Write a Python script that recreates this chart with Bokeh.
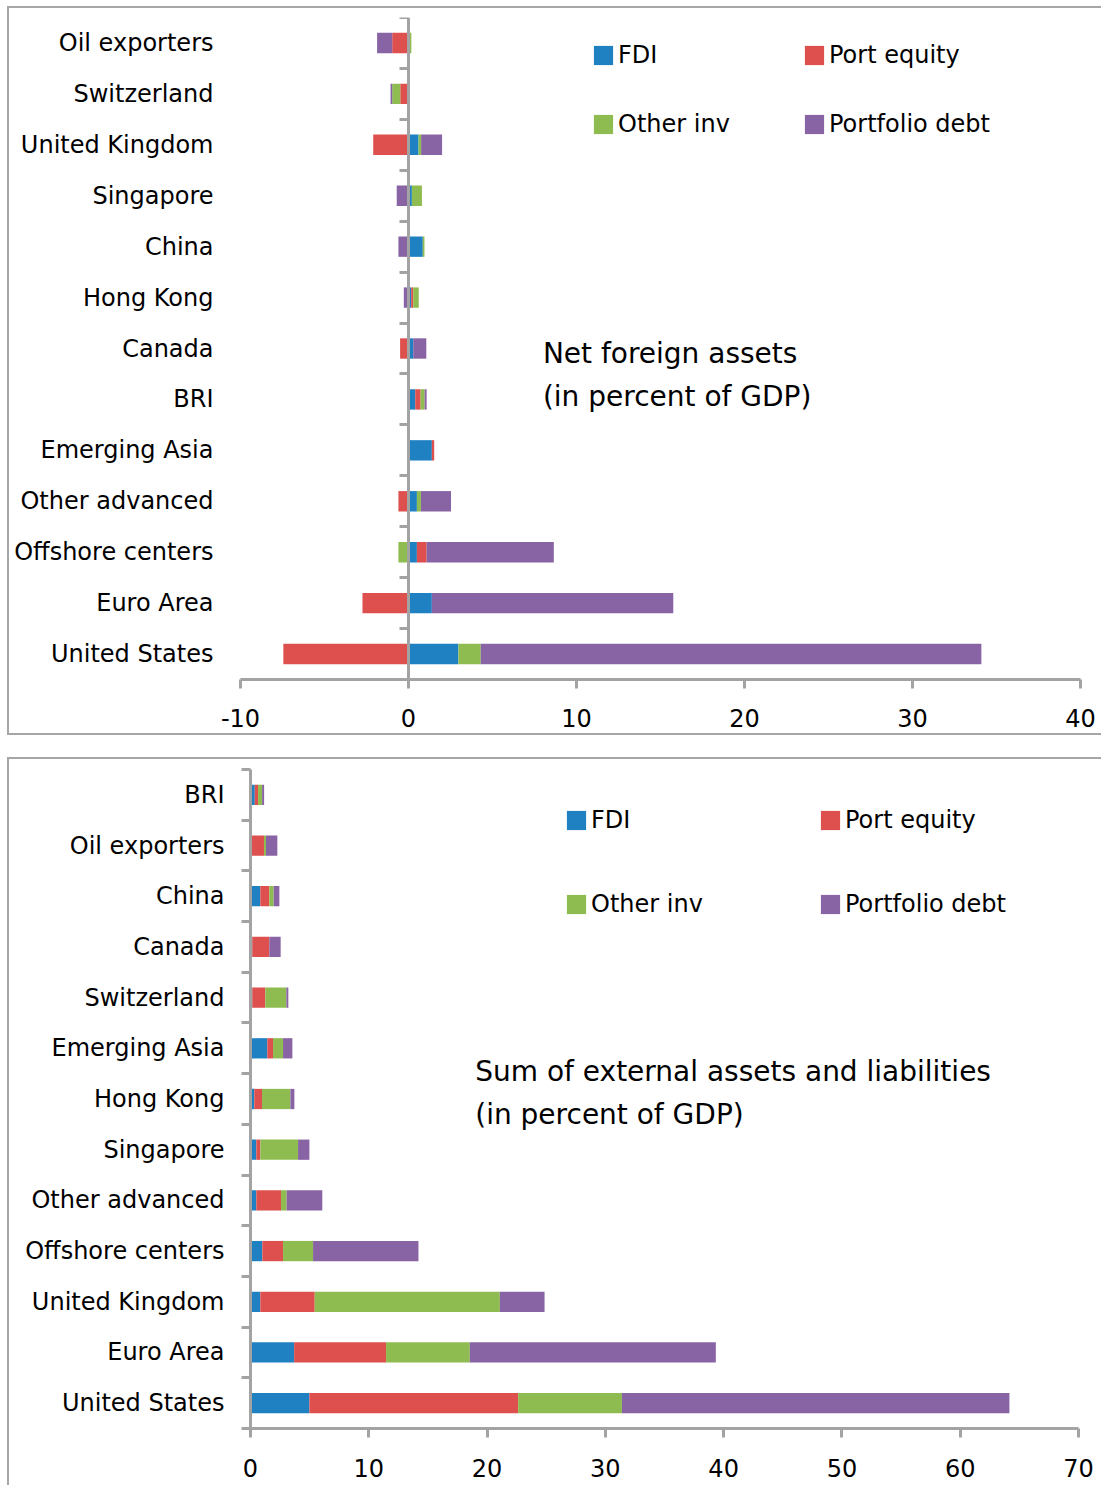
from bokeh.plotting import figure
from bokeh.layouts import column
from bokeh.models import (ColumnDataSource, FixedTicker, LinearAxis, Legend, LegendItem,
                          Label, Range1d, CustomJSTickFormatter)
from bokeh.embed import file_html
from bokeh.resources import INLINE

# ---------------- data ----------------
series_names = ["FDI", "Port equity", "Other inv", "Portfolio debt"]
series_colors = ["#1F80C2", "#DE504E", "#8FBC50", "#8964A5"]

# Net foreign assets (percent of GDP), listed bottom -> top
net_categories = ["United States", "Euro Area", "Offshore centers", "Other advanced",
                  "Emerging Asia", "BRI", "Canada", "Hong Kong", "China", "Singapore",
                  "United Kingdom", "Switzerland", "Oil exporters"]
net_fdi = [2.97, 1.39, 0.50, 0.50, 1.39, 0.40, 0.28, 0.16, 0.85, 0.20, 0.60, 0.00, 0.00]
net_port_equity = [-7.45, -2.74, 0.58, -0.60, 0.14, 0.32, -0.50, 0.12, 0.00, 0.00, -2.10, -0.49, -0.97]
net_other_inv = [1.33, 0.00, -0.60, 0.24, 0.00, 0.24, 0.00, 0.33, 0.10, 0.60, 0.15, -0.48, 0.17]
net_portfolio_debt = [29.80, 14.37, 7.57, 1.79, 0.00, 0.12, 0.78, -0.28, -0.60, -0.70, 1.25, -0.10, -0.90]
net_xticks = [-10, 0, 10, 20, 30, 40]
net_xtick_labels = ["-10", "0", "10", "20", "30", "40"]

# Sum of external assets and liabilities (percent of GDP), listed bottom -> top
gross_categories = ["United States", "Euro Area", "United Kingdom", "Offshore centers",
                    "Other advanced", "Singapore", "Hong Kong", "Emerging Asia", "Switzerland",
                    "Canada", "China", "Oil exporters", "BRI"]
gross_fdi = [4.98, 3.69, 0.83, 1.00, 0.49, 0.49, 0.32, 1.42, 0.15, 0.15, 0.83, 0.00, 0.36]
gross_port_equity = [17.65, 7.77, 4.60, 1.75, 2.09, 0.34, 0.65, 0.48, 1.10, 1.44, 0.76, 1.14, 0.28]
gross_other_inv = [8.77, 7.08, 15.65, 2.54, 0.48, 3.19, 2.40, 0.85, 1.78, 0.00, 0.37, 0.17, 0.34]
gross_portfolio_debt = [32.76, 20.80, 3.78, 8.91, 3.01, 0.96, 0.34, 0.79, 0.17, 0.96, 0.48, 0.96, 0.17]
gross_xticks = [0, 10, 20, 30, 40, 50, 60, 70]
gross_xtick_labels = ["0", "10", "20", "30", "40", "50", "60", "70"]

FONT = "DejaVu Sans"
AXIS_GRAY = "#A3A3A3"
BORDER = "2px solid #A6A6A6"


def stacked_sources(values_by_series):
    n = len(values_by_series[0])
    pos = [0.0] * n
    neg = [0.0] * n
    sources = []
    for vals in values_by_series:
        left, right = [], []
        for i, v in enumerate(vals):
            if v >= 0:
                left.append(pos[i]); right.append(pos[i] + v); pos[i] += v
            else:
                left.append(neg[i] + v); right.append(neg[i]); neg[i] += v
        sources.append(ColumnDataSource(dict(y=list(range(n)), left=left, right=right)))
    return sources


def style_common(p, xticks, xlabels, standoff):
    p.xgrid.visible = False
    p.ygrid.visible = False
    p.outline_line_color = None
    p.background_fill_color = "white"
    p.border_fill_color = "white"
    xa = p.xaxis[0]
    xa.ticker = FixedTicker(ticks=xticks)
    xa.major_label_overrides = {t: s for t, s in zip(xticks, xlabels)}
    xa.axis_line_color = AXIS_GRAY
    xa.axis_line_width = 3
    xa.major_tick_line_color = AXIS_GRAY
    xa.major_tick_line_width = 3
    xa.major_tick_out = 9
    xa.major_tick_in = 0
    xa.minor_tick_line_color = None
    xa.major_label_text_font = FONT
    xa.major_label_text_font_size = "24px"
    xa.major_label_text_color = "black"
    xa.major_label_standoff = standoff


def add_bars(p, sources):
    rs = []
    for src, name, col in zip(sources, series_names, series_colors):
        r = p.hbar(y="y", left="left", right="right", height=0.4, source=src,
                   fill_color=col, line_color=None)
        rs.append(r)
    return rs


def add_legends(p, rs, xa, xb, yb, spacing):
    for cols, x in (((0, 2), xa), ((1, 3), xb)):
        items = [LegendItem(label=series_names[c], renderers=[rs[c]]) for c in cols]
        lg = Legend(items=items, location=(x, yb), orientation="vertical",
                    glyph_width=24, glyph_height=24, label_standoff=3,
                    label_text_font=FONT, label_text_font_size="24px", label_text_color="black",
                    spacing=spacing, padding=0, margin=0, border_line_color=None,
                    background_fill_alpha=0)
        p.add_layout(lg, "center")


# ---------------- top chart ----------------
p1 = figure(width=1094, height=729, x_range=Range1d(-10, 40), y_range=Range1d(-0.5, 12.5),
            output_backend="svg", toolbar_location=None,
            min_border_left=231, min_border_right=23, min_border_top=9, min_border_bottom=58)
p1.margin = (6, 0, 0, 7)
p1.styles = {"border-top": BORDER, "border-left": BORDER, "border-bottom": BORDER}
style_common(p1, net_xticks, net_xtick_labels, 20)
ya = p1.yaxis[0]
ya.ticker = FixedTicker(ticks=list(range(len(net_categories))))
ya.major_label_overrides = {i: c for i, c in enumerate(net_categories)}
ya.axis_line_color = None
ya.major_tick_line_color = None
ya.minor_tick_line_color = None
ya.major_tick_out = 0
ya.major_tick_in = 0
ya.minor_tick_out = 0
ya.major_label_standoff = 27
ya.major_label_text_font = FONT
ya.major_label_text_font_size = "24px"
ya.major_label_text_color = "black"

zero_axis = LinearAxis(fixed_location=0,
                       ticker=FixedTicker(ticks=[k - 0.5 for k in range(len(net_categories) + 1)]),
                       formatter=CustomJSTickFormatter(code="return ''"),
                       axis_line_color=AXIS_GRAY, axis_line_width=3,
                       major_tick_line_color=AXIS_GRAY, major_tick_line_width=3,
                       major_tick_in=9, major_tick_out=0, minor_tick_line_color=None,
                       major_label_standoff=0)
p1.add_layout(zero_axis, "right")

rs1 = add_bars(p1, stacked_sources([net_fdi, net_port_equity, net_other_inv, net_portfolio_debt]))
add_legends(p1, rs1, 351, 562, 541, 41)
p1.add_layout(Label(x=8.0, y=5.9, text="Net foreign assets", text_font=FONT,
                    text_font_size="28px", text_baseline="middle", text_color="black"))
p1.add_layout(Label(x=8.0, y=5.06, text="(in percent of GDP)", text_font=FONT,
                    text_font_size="28px", text_baseline="middle", text_color="black"))

# ---------------- bottom chart ----------------
p2 = figure(width=1094, height=728, x_range=Range1d(0, 70), y_range=Range1d(-0.5, 12.5),
            output_backend="svg", toolbar_location=None,
            min_border_left=241, min_border_right=25, min_border_top=10, min_border_bottom=59)
p2.margin = (0, 0, 0, 7)
p2.styles = {"border-top": BORDER, "border-left": BORDER}
style_common(p2, gross_xticks, gross_xtick_labels, 21)
yb = p2.yaxis[0]
yb.ticker = FixedTicker(ticks=list(range(len(gross_categories))),
                        minor_ticks=[k - 0.5 for k in range(len(gross_categories) + 1)])
yb.major_label_overrides = {i: c for i, c in enumerate(gross_categories)}
yb.axis_line_color = AXIS_GRAY
yb.axis_line_width = 3
yb.major_tick_line_color = None
yb.major_tick_out = 0
yb.major_tick_in = 0
yb.minor_tick_line_color = AXIS_GRAY
yb.minor_tick_line_width = 3
yb.minor_tick_out = 9
yb.minor_tick_in = 0
yb.major_label_standoff = 17
yb.major_label_text_font = FONT
yb.major_label_text_font_size = "24px"
yb.major_label_text_color = "black"

rs2 = add_bars(p2, stacked_sources([gross_fdi, gross_port_equity, gross_other_inv, gross_portfolio_debt]))
add_legends(p2, rs2, 314, 568, 510, 56)
p2.add_layout(Label(x=19.0, y=6.54, text="Sum of external assets and liabilities", text_font=FONT,
                    text_font_size="28px", text_baseline="middle", text_color="black"))
p2.add_layout(Label(x=19.0, y=5.69, text="(in percent of GDP)", text_font=FONT,
                    text_font_size="28px", text_baseline="middle", text_color="black"))

layout = column(column(p1), column(p2), spacing=22)
open("out.html", "w").write(file_html(layout, INLINE))
